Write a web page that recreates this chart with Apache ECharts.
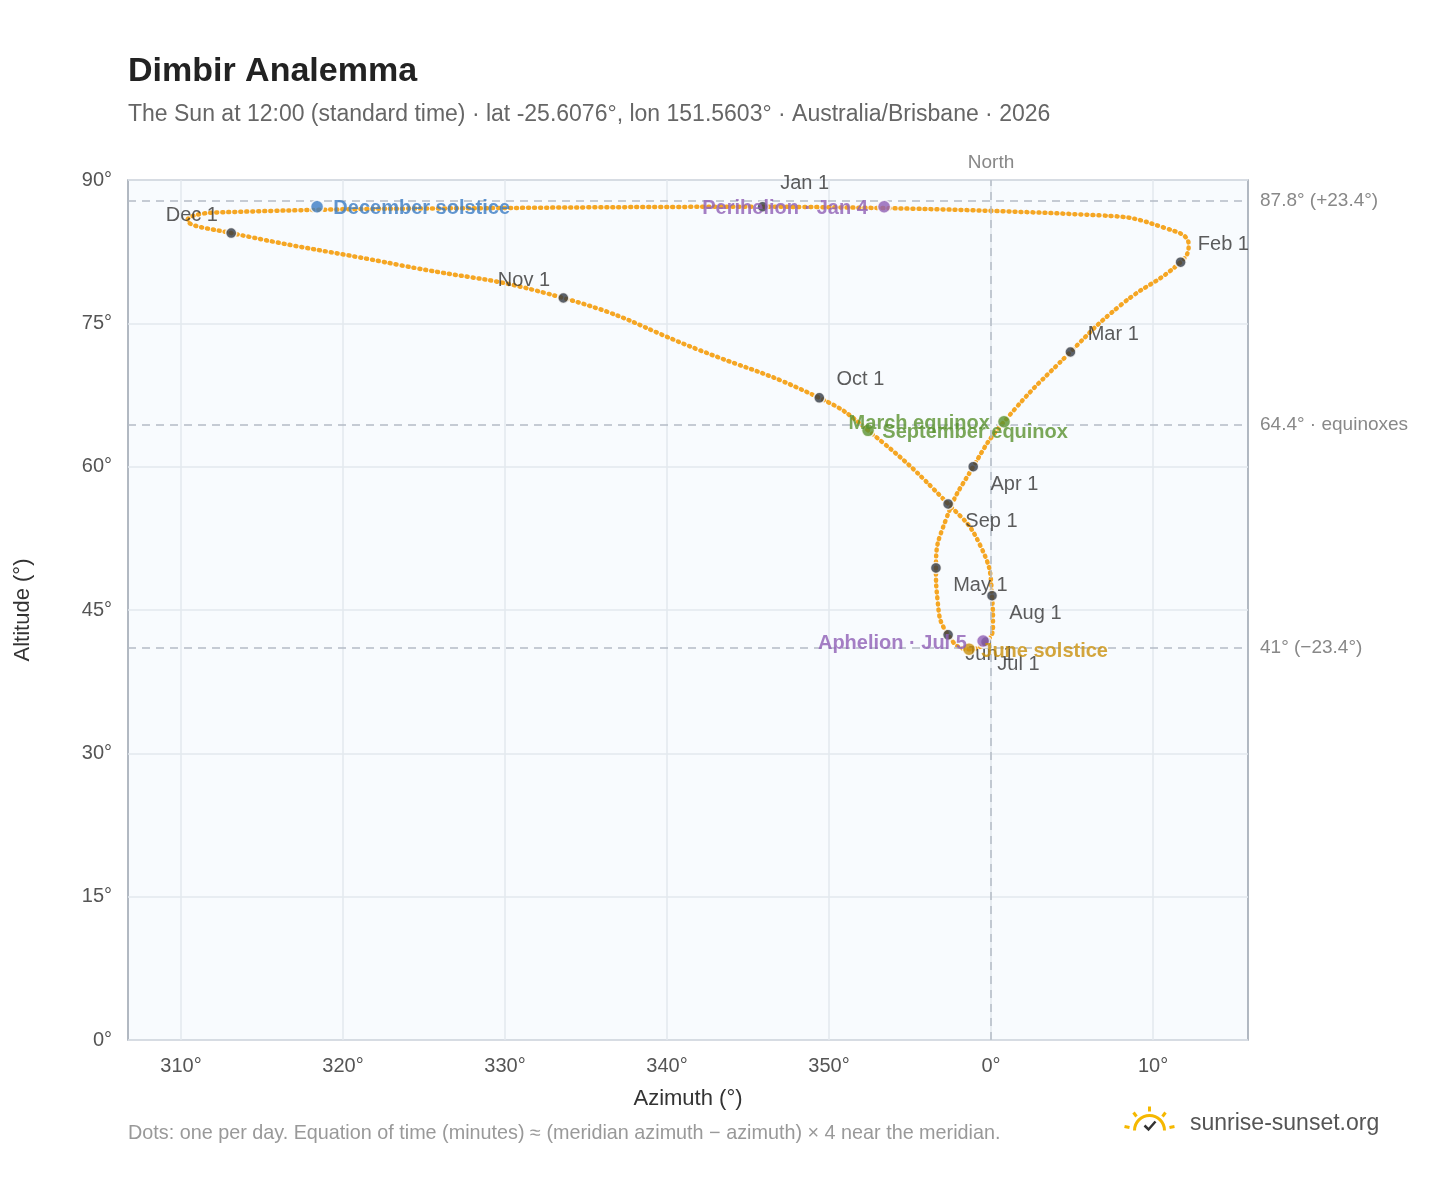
<!DOCTYPE html>
<html><head><meta charset="utf-8">
<script src="https://cdn.jsdelivr.net/npm/echarts@6/dist/echarts.min.js"></script>
<style>html,body{margin:0;background:#fff}#c{width:1448px;height:1188px}</style>
</head><body><div id="c"></div>
<script>
// Azimuth relative to north (deg, negative = west of north), altitude (deg)
const pathDates = ['Jan 1','Jan 15','Jan 22','Jan 26','Feb 1','Feb 15','Mar 1','Mar 20','Apr 1','Apr 15','May 1','May 15','Jun 1','Jun 21','Jul 1','Jul 15','Aug 1','Aug 15','Sep 1','Sep 23','Oct 1','Oct 15','Nov 1','Nov 15','Dec 1','Dec 6','Dec 10','Dec 21','Dec 31'];
const pathAz  = [-14.1,6.7,10.7,12.2,11.7,8.0,4.9,0.8,-1.1,-2.8,-3.4,-3.3,-2.65,-1.36,-0.31,0.12,0.06,-0.68,-2.65,-7.59,-10.6,-18.0,-26.4,-36.5,-46.9,-49.6,-47.9,-27.8,-14.6];
const pathAlt = [87.2,86.3,85.0,83.2,81.4,76.9,72.0,64.7,60.0,54.4,49.4,46.0,42.4,40.9,41.65,43.4,46.5,51.8,56.1,63.8,67.2,72.2,77.65,81.1,84.45,85.8,86.6,87.1,87.2];
const monthNames = ['Jan 1','Feb 1','Mar 1','Apr 1','May 1','Jun 1','Jul 1','Aug 1','Sep 1','Oct 1','Nov 1','Dec 1'];
const monthAz  = [-14.1,11.7,4.9,-1.1,-3.4,-2.65,-0.31,0.06,-2.65,-10.6,-26.4,-46.9];
const monthAlt = [87.2,81.4,72.0,60.0,49.4,42.4,41.65,46.5,56.1,67.2,77.65,84.45];
const eventNames = ['December solstice','Perihelion · Jan 4','March equinox','September equinox','June solstice','Aphelion · Jul 5'];
const eventAz  = [-41.6,-6.6,0.8,-7.59,-1.36,-0.49];
const eventAlt = [87.2,87.2,64.7,63.8,40.9,41.75];
const xTicks = [-50,-40,-30,-20,-10,0,10];
const refAlt = [87.8,64.4,41];
const refLabels = ['87.8° (+23.4°)','64.4° · equinoxes','41° (−23.4°)'];

const eventColors = ['#3a7cc4','#8e5fb5','#5a9230','#5a9230','#c9900b','#8e5fb5'];
const eventPos = [
 {position:'right',offset:[4,2]},{position:'left',offset:[-4,2]},{position:'left',offset:[-2,2]},
 {position:'right',offset:[2,2]},{position:'right',offset:[0,2]},{position:'left',offset:[-4,2]}];
const monthPos = [
 {position:'top',offset:[42,-2]},{position:'right',offset:[6,-18]},{position:'right',offset:[6,-18]},
 {position:'right',offset:[6,18]},{position:'right',offset:[6,18]},{position:'right',offset:[6,20]},
 {position:'right',offset:[0,22]},{position:'right',offset:[6,18]},{position:'right',offset:[6,18]},
 {position:'right',offset:[6,-18]},{position:'left',offset:[-2,-18]},{position:'left',offset:[-2,-18]}];

const chart = echarts.init(document.getElementById('c'));
const F = 'Liberation Sans, Arial, sans-serif';
chart.setOption({
 animation:false,
 textStyle:{fontFamily:F},
 title:{text:'Dimbir Analemma',subtext:'The Sun at 12:00 (standard time) · lat -25.6076°, lon 151.5603° · Australia/Brisbane · 2026',
   left:123,top:50,textStyle:{fontSize:34,fontWeight:'bold',color:'#222'},subtextStyle:{fontSize:23,color:'#666'},itemGap:14},
 grid:{left:128,right:200,top:180,bottom:148,show:true,backgroundColor:'#f8fbfe',borderColor:'#99a3af',borderWidth:1.5},
 xAxis:{type:'value',min:-53.27,max:15.86,name:'Azimuth (°)',nameLocation:'middle',nameGap:48,
   nameTextStyle:{fontSize:22,color:'#333'},
   axisLine:{show:false},axisTick:{show:false,customValues:xTicks},
   axisLabel:{customValues:xTicks,fontSize:20,color:'#555',margin:16,formatter:v=>((Math.round(v)+360)%360)+'°'},
   splitLine:{show:true,lineStyle:{color:'#e3e8ee',width:1.5}}},
 yAxis:{type:'value',min:0,max:90,interval:15,name:'Altitude (°)',nameLocation:'middle',nameGap:94,
   nameTextStyle:{fontSize:22,color:'#333'},axisLine:{show:false},axisTick:{show:false},
   axisLabel:{fontSize:20,color:'#555',margin:16,formatter:'{value}°'},
   splitLine:{lineStyle:{color:'#e3e8ee',width:1.5}}},
 series:[
  {type:'line',data:pathAz.map((a,i)=>[a,pathAlt[i]]),smooth:0.5,symbol:'none',
   lineStyle:{color:'#f5a623',width:4.5,type:[1,5],cap:'round'},z:3,
   markLine:{silent:true,symbol:'none',lineStyle:{color:'#b4bcc6',type:[8,6],width:1.5},
     data:[...refAlt.map((v,i)=>({yAxis:v,label:{show:true,position:'end',formatter:refLabels[i],color:'#888',fontSize:19,distance:12}})),
       {xAxis:0,label:{show:true,position:'end',formatter:'North',color:'#888',fontSize:19,distance:8}}]}},
  {type:'scatter',data:monthAz.map((a,i)=>({value:[a,monthAlt[i]],name:monthNames[i],
     label:Object.assign({show:true,formatter:monthNames[i],color:'#333',fontSize:20},monthPos[i])})),
   symbolSize:11,itemStyle:{color:'#333b45',borderColor:'#fff',borderWidth:1.5},z:5},
  {type:'scatter',data:eventAz.map((a,i)=>({value:[a,eventAlt[i]],
     itemStyle:{color:eventColors[i]},
     label:Object.assign({show:true,formatter:eventNames[i],color:eventColors[i],fontSize:20,fontWeight:'bold'},eventPos[i])})),
   symbolSize:13,itemStyle:{borderColor:'#fff',borderWidth:1.5},z:6}
 ],
 graphic:[
  {type:'text',left:128,top:1124,style:{text:'Dots: one per day. Equation of time (minutes) ≈ (meridian azimuth − azimuth) × 4 near the meridian.',fill:'#999',fontSize:19.8,fontFamily:F}},
  {type:'text',left:1190,top:1112,style:{text:'sunrise-sunset.org',fill:'#555',fontSize:23,fontFamily:F}},
  {type:'group',left:1122,top:1104,children:[
    {type:'arc',shape:{cx:25,cy:26,r:15,startAngle:Math.PI,endAngle:2*Math.PI},style:{stroke:'#f5b800',lineWidth:3,fill:null}},
    {type:'line',shape:{x1:25,y1:2,x2:25,y2:7},style:{stroke:'#f5b800',lineWidth:3}},
    {type:'line',shape:{x1:9,y1:8,x2:12,y2:12},style:{stroke:'#f5b800',lineWidth:3}},
    {type:'line',shape:{x1:41,y1:8,x2:38,y2:12},style:{stroke:'#f5b800',lineWidth:3}},
    {type:'line',shape:{x1:0,y1:22,x2:5,y2:23},style:{stroke:'#f5b800',lineWidth:3}},
    {type:'line',shape:{x1:50,y1:22,x2:45,y2:23},style:{stroke:'#f5b800',lineWidth:3}},
    {type:'polyline',shape:{points:[[20,21],[24,25],[31,17]]},style:{stroke:'#333',lineWidth:2.5,fill:null}}
  ]}
 ]
});
</script></body></html>
